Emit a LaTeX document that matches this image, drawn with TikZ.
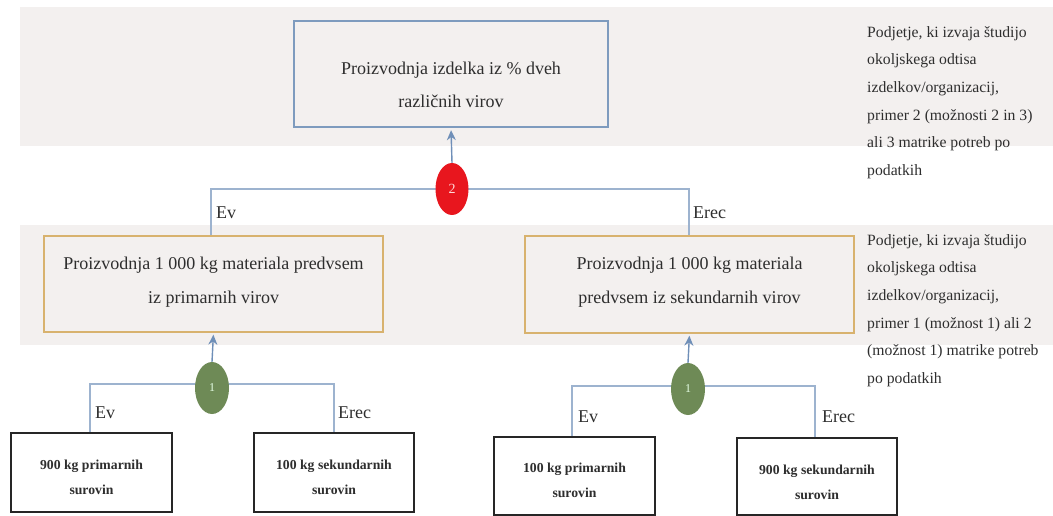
\documentclass[tikz,border=0pt]{standalone}
\usepackage{fontspec}
\setmainfont{Liberation Serif}
\usetikzlibrary{shapes.geometric,arrows.meta}
\definecolor{band}{HTML}{F3F0EF}
\definecolor{topblue}{HTML}{7E9BBE}
\definecolor{wire}{HTML}{9DB3CF}
\definecolor{tipblue}{HTML}{6F8FB8}
\definecolor{tanline}{HTML}{D8B26E}
\definecolor{redball}{HTML}{E8161E}
\definecolor{greenball}{HTML}{6E8A56}
\definecolor{ink}{HTML}{2E2E2E}
\definecolor{boxink}{HTML}{262626}

\begin{document}
\begin{tikzpicture}[x=1pt,y=-1pt,
  topbox/.style={draw=topblue,line width=2.4pt,inner sep=0pt},
  midbox/.style={draw=tanline,line width=1.4pt,inner sep=0pt},
  rawbox/.style={draw=boxink,line width=2pt,fill=white,inner sep=0pt},
  bigtext/.style={align=center,text=ink,inner sep=0pt,font=\fontsize{18}{33}\selectfont},
  midtext/.style={align=center,text=ink,inner sep=0pt,font=\fontsize{18}{34}\selectfont},
  rawtext/.style={align=center,text=ink,inner sep=0pt,font=\fontsize{13.7}{25}\selectfont\bfseries},
  sidetext/.style={align=left,text=ink,inner sep=0pt,anchor=west,font=\fontsize{15.7}{27.7}\selectfont},
  tag/.style={text=ink,inner sep=0pt,anchor=west,font=\fontsize{18}{20}\selectfont},
  wireline/.style={draw=wire,line width=1.4pt},
  flow/.style={draw=tipblue,line width=1.4pt,shorten >=2pt,-{Stealth[length=10pt,width=9pt]}},
  redknot/.style={ellipse,fill=redball,draw=none,minimum width=33pt,minimum height=52pt,inner sep=0pt,
    text=red!15,font=\fontsize{14}{14}\selectfont},
  greenknot/.style={ellipse,fill=greenball,draw=none,minimum width=34pt,minimum height=52pt,inner sep=0pt,
    text=green!10!white,font=\fontsize{12}{12}\selectfont}]
\useasboundingbox (0,0) rectangle (1053,516);

% shaded bands
\fill[band] (20,7) rectangle (1053,146);
\fill[band] (20,225) rectangle (1053,345);

% top level
\node[topbox,minimum width=314pt,minimum height=106pt] (top) at (451,74) {};
\node[bigtext] (toptext) at (451,84.5) {Proizvodnja izdelka iz \% dveh\\različnih virov};

% middle level
\node[midbox,minimum width=339pt,minimum height=96pt] (midL) at (213.5,284) {};
\node[midtext] (midLtext) at (213.5,282) {Proizvodnja 1 000 kg materiala predvsem\\iz primarnih virov};
\node[midbox,minimum width=329pt,minimum height=97pt] (midR) at (689.5,284.5) {};
\node[midtext] (midRtext) at (689.5,282) {Proizvodnja 1 000 kg materiala\\predvsem iz sekundarnih virov};

% raw material boxes
\node[rawbox,minimum width=161pt,minimum height=79pt] (b1) at (91.5,472.5) {};
\node[rawtext] (b1text) at (91.5,477.5) {900 kg primarnih\\surovin};
\node[rawbox,minimum width=160pt,minimum height=79pt] (b2) at (334,472.5) {};
\node[rawtext] (b2text) at (334,477.5) {100 kg sekundarnih\\surovin};
\node[rawbox,minimum width=161pt,minimum height=78pt] (b3) at (574.5,476) {};
\node[rawtext] (b3text) at (574.5,480) {100 kg primarnih\\surovin};
\node[rawbox,minimum width=160pt,minimum height=77pt] (b4) at (817,476) {};
\node[rawtext] (b4text) at (817,482) {900 kg sekundarnih\\surovin};

% junction corners
\coordinate (t2l) at (211,189);
\coordinate (t2r) at (689,189);
\coordinate (l1l) at (90,384);
\coordinate (l1r) at (334,384);
\coordinate (r1l) at (572,386);
\coordinate (r1r) at (815,386);

% branch lines
\draw[wireline] (t2l |- midL.north) -- (t2l) -- (t2r) -- (t2r |- midR.north);
\draw[wireline] (l1l |- b1.north) -- (l1l) -- (l1r) -- (l1r |- b2.north);
\draw[wireline] (r1l |- b3.north) -- (r1l) -- (r1r) -- (r1r |- b4.north);

% aggregation knots
\node[redknot] (k2) at (452,189) {2};
\node[greenknot] (k1L) at (212,388) {\raisebox{-3pt}{1}};
\node[greenknot] (k1R) at (688,389) {\raisebox{-3pt}{1}};

\draw[flow] (k2.north) -- (top.south);
\draw[flow] (k1L.north) -- (midL.south);
\draw[flow] (k1R.north) -- (midR.south);

% branch labels
\node[tag] (ev2) at (216,213) {Ev};
\node[tag] (erec2) at (693,213) {Erec};
\node[tag] (evL) at (95,413) {Ev};
\node[tag] (erecL) at (338,413) {Erec};
\node[tag] (evR) at (578,417) {Ev};
\node[tag] (erecR) at (822,417) {Erec};

% side notes
\node[sidetext] (note2) at (867,102.5) {Podjetje, ki izvaja študijo\\okoljskega odtisa\\izdelkov/organizacij,\\primer 2 (možnosti 2 in 3)\\ali 3 matrike potreb po\\podatkih};
\node[sidetext] (note1) at (867,310.5) {Podjetje, ki izvaja študijo\\okoljskega odtisa\\izdelkov/organizacij,\\primer 1 (možnost 1) ali 2\\(možnost 1) matrike potreb\\po podatkih};
\end{tikzpicture}
\end{document}
